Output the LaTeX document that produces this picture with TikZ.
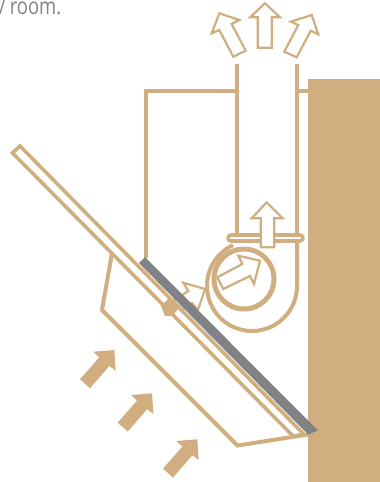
\documentclass[tikz,border=0pt]{standalone}
\usepackage{fontspec}
\setmainfont{Open Sans}
\newfontfamily\capfont[FakeStretch=0.8]{Open Sans}
\definecolor{tan}{HTML}{D0AE80}
\definecolor{slate}{HTML}{808285}
\tikzset{
  ln/.style={draw=tan,line width=4pt,line join=miter},
  thin arrow/.style={draw=tan,line width=2.2pt,fill=white,line join=miter},
  solid arrow/.style={fill=tan},
  x=1pt,y=-1pt
}
\begin{document}
\begin{tikzpicture}
\useasboundingbox (0,0) rectangle (380,482);
\clip (0,0) rectangle (380,482);
% wall
\fill[tan] (308,79) rectangle (380,482);
% text
\node[anchor=base west,inner sep=0,text=slate,font=\capfont\fontsize{23}{26}\selectfont] (caption) at (-1,14) {/\,room.};
% frame and duct
\draw[ln] (146,258) -- (146,91) -- (237,91);
\draw[ln] (297,91) -- (308,91);
\draw[ln] (237,64) -- (237,235);
\draw[ln] (297,64) -- (297,235);
% scroll
\draw[ln,line width=4pt] (297,238) -- (297,286) arc[start angle=0,end angle=245,radius=45];
\draw[draw=tan,line width=3.6pt,fill=white,line join=round,rounded corners=3pt] (228,235) rectangle (303,241);
\draw[ln,line width=5pt,fill=white] (244,279) circle[radius=30];
% fan arrows
\draw[thin arrow] (217.3,277.3)--(223.3,289)--(250,276)--(254,284)--(260,260.7)--(238.3,255.7)--(242.3,264)--cycle;
\draw[thin arrow] (266.7,202.3)--(251.7,218.3)--(260.7,218.3)--(260.7,247.3)--(274.3,247.3)--(274.3,218.3)--(282.7,218.3)--cycle;
% top arrows
\draw[thin arrow] (265,3.3)--(250,17.3)--(257.7,17.3)--(257.7,47.7)--(271.7,47.7)--(271.7,17.3)--(280,17.3)--cycle;
\draw[thin arrow] (219.3,13.3)--(211.7,33.3)--(219.3,30)--(233.3,56.7)--(245.7,50.7)--(231.7,24)--(239.3,20)--cycle;
\draw[thin arrow] (311.7,15)--(290.7,21.7)--(298.3,25)--(284.3,51.7)--(296.7,57.3)--(310.7,30.7)--(318.3,34.3)--cycle;
% solid arrows
\foreach \dx/\dy in {0/0,37.7/43.3,83/89.3}{
  \fill[solid arrow,shift={(\dx,\dy)}] (114.3,350)--(93.3,351.7)--(99.3,357.3)--(80,379.3)--(90,388.3)--(109.3,366)--(115.7,370.7)--cycle;
}
% small arrow behind the glass
\draw[thin arrow] (205,289)--(183.3,282.7)--(188.3,291)--(170,303)--(176,314)--(192,303)--(198,310)--cycle;
% glass and outer frame
\draw[ln] (112,253) -- (102,310) -- (237.5,445.5) -- (308,434.5);
\fill[white] (12.5,153) -- (20,146) -- (304,434.5) -- (293,436) -- cycle;
\draw[ln,line width=3.6pt] (12.5,153) -- (20,146) -- (304,434.5) -- (293,436) -- cycle;
\fill[tan] (161,306) -- (168,299) -- (181,306) -- (172,316) -- (165,316) -- cycle;
% absorber
\fill[slate] (139,263) -- (145,257) -- (318,430.5) -- (308,434.5) -- cycle;
\end{tikzpicture}
\end{document}
